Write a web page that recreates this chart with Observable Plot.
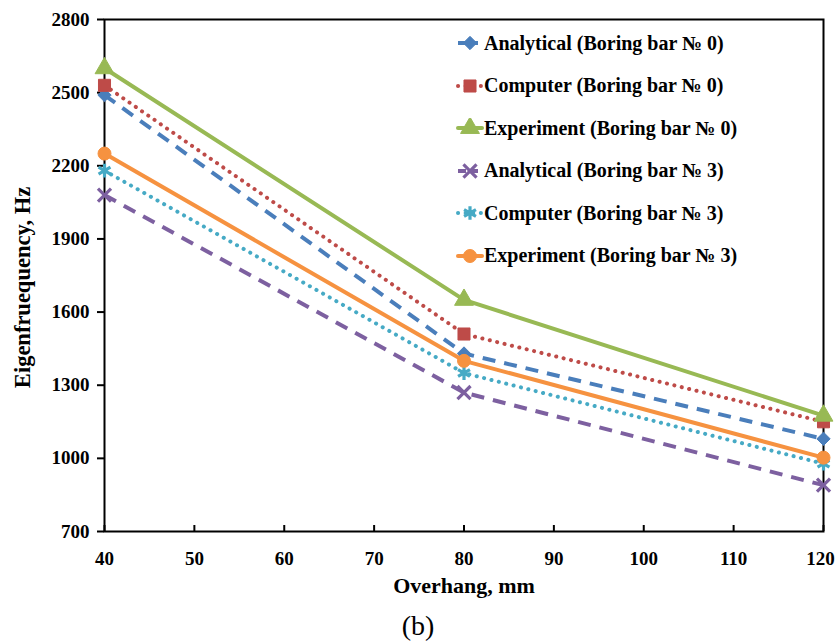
<!DOCTYPE html>
<html>
<head>
<meta charset="utf-8">
<script src="https://cdn.jsdelivr.net/npm/d3@7"></script>
<script src="https://cdn.jsdelivr.net/npm/@observablehq/plot@0.6"></script>
<style>
  body { margin: 0; background: #fff; }
  #wrap { position: relative; width: 836px; height: 644px; font-family: "Liberation Serif", "Times New Roman", serif; }
  #legend { position: absolute; left: 456px; top: 22px; }
  .li { display: flex; align-items: center; height: 42.5px; font-weight: bold; font-size: 20px; color: #000; }
  .li svg { margin-right: 0px; }
  #cap { text-align: center; font-size: 28px; line-height: 44px; height: 44px; padding-top: 4px; }
</style>
</head>
<body>
<div id="wrap">
  <div id="chart"></div>
  <div id="legend"></div>
  <div id="cap">(b)</div>
</div>
<script>
const overhang = [40, 80, 120];
const seriesNames = [
  "Analytical (Boring bar № 0)",
  "Computer (Boring bar № 0)",
  "Experiment (Boring bar № 0)",
  "Analytical (Boring bar № 3)",
  "Computer (Boring bar № 3)",
  "Experiment (Boring bar № 3)"
];
const analytical0 = [2490, 1430, 1080];
const computer0   = [2530, 1510, 1150];
const experiment0 = [2600, 1650, 1175];
const analytical3 = [2080, 1270, 890];
const computer3   = [2180, 1350, 978];
const experiment3 = [2250, 1400, 1003];
const xTicks = [40, 50, 60, 70, 80, 90, 100, 110, 120];
const yTicks = [700, 1000, 1300, 1600, 1900, 2200, 2500, 2800];

const values = [analytical0, computer0, experiment0, analytical3, computer3, experiment3];
const styles = [
  {color: "#4A7EBB", dash: "13,9", cap: "butt", symbol: "diamond2", r: 6, filled: true},
  {color: "#BE4B48", dash: "0.1,7.5", cap: "round", symbol: "square", r: 6.8, filled: true},
  {color: "#98B954", dash: null, cap: "round", symbol: "triangle", r: 7, filled: true},
  {color: "#7D60A0", dash: "13,9", cap: "butt", symbol: "times", r: 6, filled: false},
  {color: "#46AAC5", dash: "0.1,7.5", cap: "round", symbol: "asterisk", r: 6.5, filled: false},
  {color: "#F69240", dash: null, cap: "round", symbol: "circle", r: 6.5, filled: true}
];

const data = [];
values.forEach((vals, i) => vals.forEach((v, j) => data.push({series: seriesNames[i], idx: i, x: overhang[j], y: v})));

const marks = [];
styles.forEach((s, i) => {
  const d = data.filter(e => e.idx === i);
  marks.push(Plot.line(d, {x: "x", y: "y", stroke: s.color, strokeWidth: 4, strokeDasharray: s.dash, strokeLinecap: s.cap, strokeLinejoin: "round"}));
  marks.push(Plot.dot(d, s.filled
    ? {x: "x", y: "y", symbol: () => s.symbol, r: s.r, fill: s.color, stroke: s.color, strokeWidth: 1}
    : {x: "x", y: "y", symbol: () => s.symbol, r: s.r, fill: "none", stroke: s.color, strokeWidth: 3.2}));
});

const lastTick = xTicks.slice(-1);
const innerTicks = xTicks.slice(0, -1);
const tickFont = {fontSize: 19, fontWeight: "bold", label: null, tickSize: 0, tickPadding: 20, tickFormat: d => String(d)};

const chart = Plot.plot({
  width: 836,
  height: 600,
  marginLeft: 104,
  marginRight: 13,
  marginTop: 19,
  marginBottom: 69,
  style: {fontFamily: "'Liberation Serif', 'Times New Roman', serif", background: "#fff", color: "#000"},
  x: {domain: [40, 120], ticks: xTicks},
  y: {domain: [700, 2800], ticks: yTicks},
  symbol: {type: "identity"},
  marks: [
    Plot.frame({stroke: "#000", strokeWidth: 2}),
    Plot.axisX({ticks: xTicks, tickSize: -6, tickFormat: () => "", label: null, strokeWidth: 2}),
    Plot.axisX({ticks: innerTicks, ...tickFont}),
    Plot.axisX({ticks: lastTick, ...tickFont, dx: -3}),
    Plot.axisY({ticks: yTicks, tickSize: 7, tickPadding: 8, tickFormat: d => String(d), fontSize: 19, fontWeight: "bold", label: null, strokeWidth: 2}),
    Plot.text(["Eigenfruequency, Hz"], {frameAnchor: "left", textAnchor: "middle", lineAnchor: "middle", dx: -82, dy: 12, rotate: -90, fontSize: 22.5, fontWeight: "bold"}),
    Plot.text(["Overhang, mm"], {frameAnchor: "bottom", lineAnchor: "middle", dy: 54, fontSize: 22, fontWeight: "bold"}),
    ...marks
  ]
});
document.getElementById("chart").appendChild(chart);

// legend
const legend = d3.select("#legend");
const symMap = {diamond2: d3.symbolDiamond2, square: d3.symbolSquare, triangle: d3.symbolTriangle, times: d3.symbolTimes, asterisk: d3.symbolAsterisk, circle: d3.symbolCircle};
styles.forEach((s, i) => {
  const row = legend.append("div").attr("class", "li");
  const svg = row.append("svg").attr("width", 28).attr("height", 20);
  svg.append("line").attr("x1", 2).attr("x2", 26).attr("y1", 10).attr("y2", 10)
    .attr("stroke", s.color).attr("stroke-width", 4)
    .attr("stroke-dasharray", s.dash ? (s.cap === "round" ? "0.1,7.5" : "8,4") : null)
    .attr("stroke-linecap", s.cap);
  const size = s.r * s.r * Math.PI;
  svg.append("path").attr("transform", "translate(14,10)")
    .attr("d", d3.symbol(symMap[s.symbol], size)())
    .attr("fill", s.filled ? s.color : "none")
    .attr("stroke", s.color).attr("stroke-width", s.filled ? 1 : 3.2);
  row.append("span").text(seriesNames[i]);
});
</script>
</body>
</html>
